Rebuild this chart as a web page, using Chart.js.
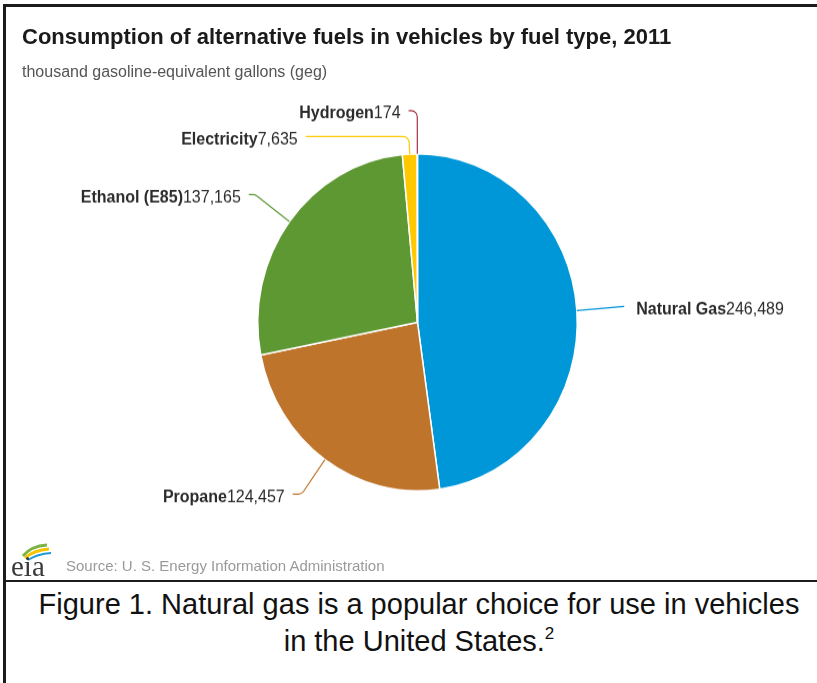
<!DOCTYPE html>
<html>
<head>
<meta charset="utf-8">
<script src="https://cdn.jsdelivr.net/npm/chart.js@4.4.1/dist/chart.umd.min.js"></script>
<style>
  body { margin: 0; background: #fff; font-family: "Liberation Sans", Arial, sans-serif; }
  #page { position: relative; width: 817px; height: 683px; overflow: hidden; }
  #frame { position: absolute; left: 3px; top: 4px; width: 830px; height: 700px;
           border-left: 3px solid #1c1c1c; border-top: 3px solid #1c1c1c; }
  #sep { position: absolute; left: 3px; top: 580px; width: 830px; height: 2px; background: #1c1c1c; }
  #title { position: absolute; left: 22px; top: 24px; font-size: 22px; font-weight: bold; color: #1a1a1a; white-space: nowrap; }
  #subtitle { position: absolute; left: 22px; top: 63px; font-size: 16px; color: #555; white-space: nowrap; }
  #source { position: absolute; left: 66px; top: 557px; font-size: 15px; color: #9a9a9a; white-space: nowrap; }
  #logo { position: absolute; left: 9px; top: 540px; }
  #wrap { position: absolute; left: 0; top: 0; transform: scaleY(1.055); transform-origin: 0 0; }
  #caption { position: absolute; left: 0; top: 586px; width: 838px; text-align: center;
             font-size: 29px; line-height: 37px; color: #111; }
  #caption sup { font-size: 17px; vertical-align: 12px; line-height: 0; }
</style>
</head>
<body>
<div id="page">
  <div id="frame"></div>
  <div id="sep"></div>
  <div id="wrap"><canvas id="pie" width="817" height="550"></canvas></div>
  <div id="title">Consumption of alternative fuels in vehicles by fuel type, 2011</div>
  <div id="subtitle">thousand gasoline-equivalent gallons (geg)</div>
  <svg id="logo" width="48" height="38" viewBox="0 0 48 38">
    <path d="M14 16 Q22 6 38 5" stroke="#7cb342" stroke-width="3" fill="none"/>
    <path d="M16 18 Q25 10 40 9" stroke="#f5c400" stroke-width="3" fill="none"/>
    <path d="M19 20 Q28 14 42 13" stroke="#1b9ad6" stroke-width="2" fill="none"/>
    <text x="2" y="36" font-family="Liberation Serif, DejaVu Serif, serif" font-size="29" fill="#3a3a3a">eia</text>
  </svg>
  <div id="source">Source: U. S. Energy Information Administration</div>
  <div id="caption">Figure 1. Natural gas is a popular choice for use in vehicles<br>in the United States.<sup>2</sup></div>
</div>

<script>
// thousand gasoline-equivalent gallons, 2011
const fuels = ["Natural Gas", "Propane", "Ethanol (E85)", "Electricity", "Hydrogen"];
const consumption = [246489, 124457, 137165, 7635, 174];
const colors = ["#0097d8", "#be742b", "#5e9833", "#ffc800", "#a5333f"];

// where each leader line ends, relative to the pie centre, in radii
const labelAnchors = [[1.294, -0.095], [-0.781, 1.019], [-1.056, -0.758], [-0.70, -1.102], [-0.056, -1.256]];

function fmt(v) {
  return v.toLocaleString("en-US");
}

const leaderLabels = {
  id: "leaderLabels",
  afterDatasetsDraw(chart) {
    const ctx = chart.ctx;
    const meta = chart.getDatasetMeta(0);
    ctx.save();
    meta.data.forEach(function (arc, i) {
      const p = arc.getProps(["x", "y", "startAngle", "endAngle", "outerRadius"], true);
      const mid = (p.startAngle + p.endAngle) / 2;
      const dx = Math.cos(mid), dy = Math.sin(mid);
      const P = { x: p.x + dx * p.outerRadius, y: p.y + dy * p.outerRadius };
      const A = { x: p.x + labelAnchors[i][0] * p.outerRadius, y: p.y + labelAnchors[i][1] * p.outerRadius };
      const side = A.x < p.x ? -1 : 1;

      ctx.beginPath();
      ctx.strokeStyle = colors[i];
      ctx.lineWidth = 1.2;
      ctx.moveTo(P.x, P.y);
      const t = Math.abs(dy) > 0.01 ? (A.y - P.y) / dy : -1;
      const C = { x: P.x + dx * t, y: A.y };
      if (t > 0 && (C.x - A.x) * side < 0) {
        const rad = Math.min(6, Math.abs(C.x - A.x), Math.abs(C.y - P.y));
        ctx.arcTo(C.x, C.y, A.x, A.y, rad);
      }
      ctx.lineTo(A.x, A.y);
      ctx.stroke();

      const name = fuels[i], val = fmt(consumption[i]);
      ctx.textBaseline = "middle";
      ctx.fillStyle = "#2b2b2b";
      ctx.font = "bold 16px 'Liberation Sans', Arial, sans-serif";
      const nw = ctx.measureText(name).width;
      ctx.font = "16px 'Liberation Sans', Arial, sans-serif";
      const vw = ctx.measureText(val).width;
      const ty = A.y + 3;
      let x0 = side < 0 ? A.x - 8 - nw - vw : A.x + 12;
      ctx.textAlign = "left";
      ctx.font = "bold 16px 'Liberation Sans', Arial, sans-serif";
      ctx.fillText(name, x0, ty);
      ctx.font = "16px 'Liberation Sans', Arial, sans-serif";
      ctx.fillText(val, x0 + nw, ty);
    });
    ctx.restore();
  }
};

new Chart(document.getElementById("pie"), {
  type: "pie",
  data: {
    labels: fuels,
    datasets: [{
      data: consumption,
      backgroundColor: colors,
      borderColor: "#ffffff",
      borderWidth: 1.5
    }]
  },
  options: {
    responsive: false,
    animation: false,
    layout: { padding: { left: 257, right: 239, top: 145, bottom: 84 } },
    plugins: {
      legend: { display: false },
      tooltip: { enabled: false }
    }
  },
  plugins: [leaderLabels]
});
</script>
</body>
</html>
